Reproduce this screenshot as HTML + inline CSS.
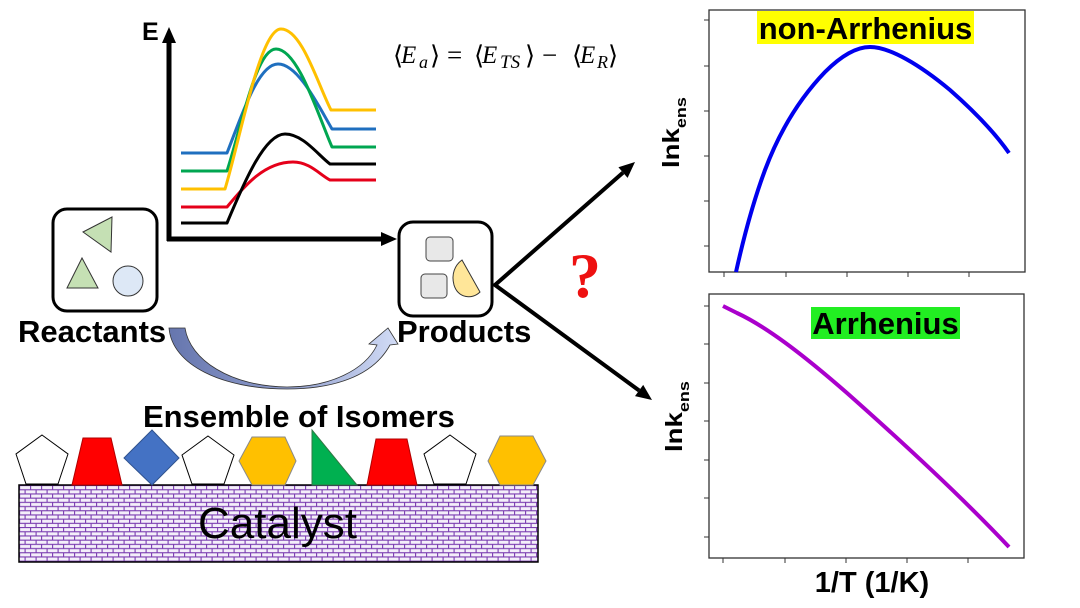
<!DOCTYPE html>
<html>
<head>
<meta charset="utf-8">
<style>
  html,body{margin:0;padding:0;background:#fff;}
  svg{display:block;}
</style>
</head>
<body>
<svg width="1080" height="608" viewBox="0 0 1080 608" xmlns="http://www.w3.org/2000/svg" font-family="Liberation Sans, Arial, sans-serif">
  <defs>
    <pattern id="brick" width="11" height="8.4" patternUnits="userSpaceOnUse" x="19" y="485">
      <rect width="11" height="8.4" fill="#f4effa"/>
      <path d="M0,0.6H11 M0,4.8H11 M0.6,0.6V4.8 M6.1,4.8V8.4" stroke="#7a3cb0" stroke-width="1.1" fill="none"/>
    </pattern>
    <linearGradient id="cg" x1="0" y1="0" x2="1" y2="0">
      <stop offset="0" stop-color="#6676ae"/>
      <stop offset="0.5" stop-color="#8e9ccc"/>
      <stop offset="1" stop-color="#d2dcf6"/>
    </linearGradient>
  </defs>

  <!-- Energy diagram axes -->
  <line x1="169" y1="241" x2="169" y2="40" stroke="#000" stroke-width="5"/>
  <polygon points="169,27 162,43 176,43" fill="#000"/>
  <line x1="167" y1="239" x2="383" y2="239" stroke="#000" stroke-width="5"/>
  <polygon points="397,239 381,232 381,246" fill="#000"/>
  <text x="142" y="40" font-size="25" font-weight="bold">E</text>

  <!-- Energy curves -->
  <g fill="none" stroke-width="3" stroke-linejoin="round">
    <path d="M181,153 H227 C242,115 258,64 278,64 C298,64 318,105 332,129 H376" stroke="#1f6fbf"/>
    <path d="M181,171 H227 C242,125 256,49 276,49 C298,49 318,115 332,147 H376" stroke="#00a651"/>
    <path d="M181,189 H225 C240,140 260,29 281,29 C302,29 318,85 331,110 H376" stroke="#ffc000"/>
    <path d="M181,207 H227 C245,185 265,162 293,162 C310,162 320,175 330,180 H376" stroke="#e5001a"/>
    <path d="M181,223 H227 C245,180 265,134 285,134 C303,134 318,155 330,164 H376" stroke="#000"/>
  </g>

  <!-- Equation -->
  <g font-family="Liberation Serif, DejaVu Serif, serif" font-size="25">
    <text x="393" y="64" font-family="DejaVu Serif, DejaVu Sans, serif" font-size="26">⟨</text>
    <text x="401" y="63" font-style="italic">E</text>
    <text x="419" y="68" font-size="18" font-style="italic">a</text>
    <text x="430" y="64" font-family="DejaVu Serif, DejaVu Sans, serif" font-size="26">⟩</text>
    <text x="447" y="64" font-size="27">=</text>
    <text x="474" y="64" font-family="DejaVu Serif, DejaVu Sans, serif" font-size="26">⟨</text>
    <text x="482" y="63" font-style="italic">E</text>
    <text x="500" y="68" font-size="19" font-style="italic">TS</text>
    <text x="525" y="64" font-family="DejaVu Serif, DejaVu Sans, serif" font-size="26">⟩</text>
    <text x="542" y="64" font-size="27">−</text>
    <text x="572" y="64" font-family="DejaVu Serif, DejaVu Sans, serif" font-size="26">⟨</text>
    <text x="580" y="63" font-style="italic">E</text>
    <text x="597" y="68" font-size="18" font-style="italic">R</text>
    <text x="608" y="64" font-family="DejaVu Serif, DejaVu Sans, serif" font-size="26">⟩</text>
  </g>

  <!-- Reactants box -->
  <rect x="53" y="209" width="104" height="102" rx="14" ry="14" fill="#fff" stroke="#000" stroke-width="3"/>
  <polygon points="83,232 112,217 111,252" fill="#c5e0b4" stroke="#333" stroke-width="1"/>
  <polygon points="82,258 67,288 98,288" fill="#c5e0b4" stroke="#333" stroke-width="1"/>
  <circle cx="128" cy="281" r="15" fill="#dde8f6" stroke="#333" stroke-width="1"/>
  <text x="18" y="342" font-size="31" font-weight="bold">Reactants</text>

  <!-- Products box -->
  <rect x="399" y="222" width="93" height="94" rx="14" ry="14" fill="#fff" stroke="#000" stroke-width="3"/>
  <rect x="426" y="237" width="27" height="24" rx="4" fill="#e8e8e8" stroke="#444" stroke-width="1"/>
  <rect x="421" y="274" width="26" height="24" rx="4" fill="#e8e8e8" stroke="#444" stroke-width="1"/>
  <path d="M462,260 L480,292 C472,300 458,298 454,285 C451,274 455,265 462,260 Z" fill="#ffe699" stroke="#333" stroke-width="1"/>
  <text x="397" y="342" font-size="31" font-weight="bold">Products</text>

  <!-- Curved arrow -->
  <path d="M169,328 L185,328 C190,360 230,386 287,387 C330,387 365,370 377,345 L369,344 L388,328 L398,344 L390,345 C372,378 330,389 287,389 C222,389 172,365 169,328 Z" fill="url(#cg)" stroke="#333" stroke-width="0.8"/>

  <!-- Branch arrows -->
  <polyline points="623,172.6 495,285 639.1,390.5" fill="none" stroke="#000" stroke-width="4" stroke-linejoin="miter"/>
  <polygon points="635,162 627.6,177.9 618.4,167.3" fill="#000"/>
  <polygon points="652,400 635,396.1 643.2,384.9" fill="#000"/>
  <text x="585" y="297" font-size="64" font-weight="bold" fill="#ee1111" text-anchor="middle" font-family="Liberation Serif, DejaVu Serif, serif">?</text>

  <!-- Ensemble -->
  <text x="143" y="427" font-size="31" font-weight="bold">Ensemble of Isomers</text>
  <rect x="19" y="485" width="519" height="77" fill="url(#brick)" stroke="#000" stroke-width="1.5"/>
  <text x="198" y="538" font-size="44">Catalyst</text>

  <!-- Isomer shapes -->
  <polygon points="42,435 68,454 58,484 26,484 16,454" fill="#fff" stroke="#000" stroke-width="1"/>
  <polygon points="72,485 122,485 111,438 83,438" fill="#ff0000" stroke="#b00000" stroke-width="1"/>
  <polygon points="152,430 179,458 152,485 124,458" fill="#4472c4" stroke="#2f528f" stroke-width="1"/>
  <polygon points="208,436 234,455 224,484 192,484 182,455" fill="#fff" stroke="#000" stroke-width="1"/>
  <polygon points="252,437 285,437 296,461 285,485 252,485 239,461" fill="#ffc000" stroke="#8a8a8a" stroke-width="1"/>
  <polygon points="312,430 357,485 312,485" fill="#00b050" stroke="#2f7a44" stroke-width="1"/>
  <polygon points="367,485 417,485 407,439 376,439" fill="#ff0000" stroke="#b00000" stroke-width="1"/>
  <polygon points="450,435 476,454 466,484 434,484 424,454" fill="#fff" stroke="#000" stroke-width="1"/>
  <polygon points="500,436 533,436 546,461 533,485 500,485 488,461" fill="#ffc000" stroke="#8a8a8a" stroke-width="1"/>

  <!-- Plot 1 -->
  <rect x="709" y="10" width="316" height="262" fill="#fff" stroke="#333" stroke-width="1.3"/>
  <g stroke="#333" stroke-width="1">
    <path d="M704,20H709 M704,66H709 M704,111H709 M704,156H709 M704,201H709 M704,246H709"/>
    <path d="M724,272V277 M786,272V277 M847,272V277 M908,272V277 M969,272V277"/>
  </g>
  <path d="M736,272 C742,245 752,205 765,170 C780,130 800,98 825,72 C845,52 860,47 870,47 C890,47 920,65 950,90 C975,112 995,133 1009,153" fill="none" stroke="#0000ee" stroke-width="4" stroke-linejoin="round"/>
  <rect x="757" y="11" width="217" height="33" fill="#ffff00"/>
  <text x="865.5" y="39" font-size="31" font-weight="bold" text-anchor="middle">non-Arrhenius</text>
  <text transform="translate(679,168) rotate(-90) scale(1.2,1)" font-size="23" font-weight="bold">lnk<tspan font-size="15" dy="7">ens</tspan></text>

  <!-- Plot 2 -->
  <rect x="709" y="294" width="315" height="264" fill="#fff" stroke="#333" stroke-width="1.3"/>
  <g stroke="#333" stroke-width="1">
    <path d="M704,306H709 M704,344H709 M704,383H709 M704,421H709 M704,460H709 M704,498H709 M704,537H709"/>
    <path d="M723,558V563 M785,558V563 M846,558V563 M907,558V563 M968,558V563"/>
  </g>
  <path d="M723,306 L737,313 C765,326 800,352 847,393 C900,440 960,495 1009,547" fill="none" stroke="#aa00cc" stroke-width="4" stroke-linejoin="round"/>
  <rect x="811" y="307" width="149" height="32" fill="#22ee22"/>
  <text x="885.5" y="334" font-size="31" font-weight="bold" text-anchor="middle">Arrhenius</text>
  <text transform="translate(682,452) rotate(-90) scale(1.2,1)" font-size="23" font-weight="bold">lnk<tspan font-size="15" dy="7">ens</tspan></text>
  <text x="872" y="592" font-size="29" font-weight="bold" text-anchor="middle">1/T (1/K)</text>
</svg>
</body>
</html>
